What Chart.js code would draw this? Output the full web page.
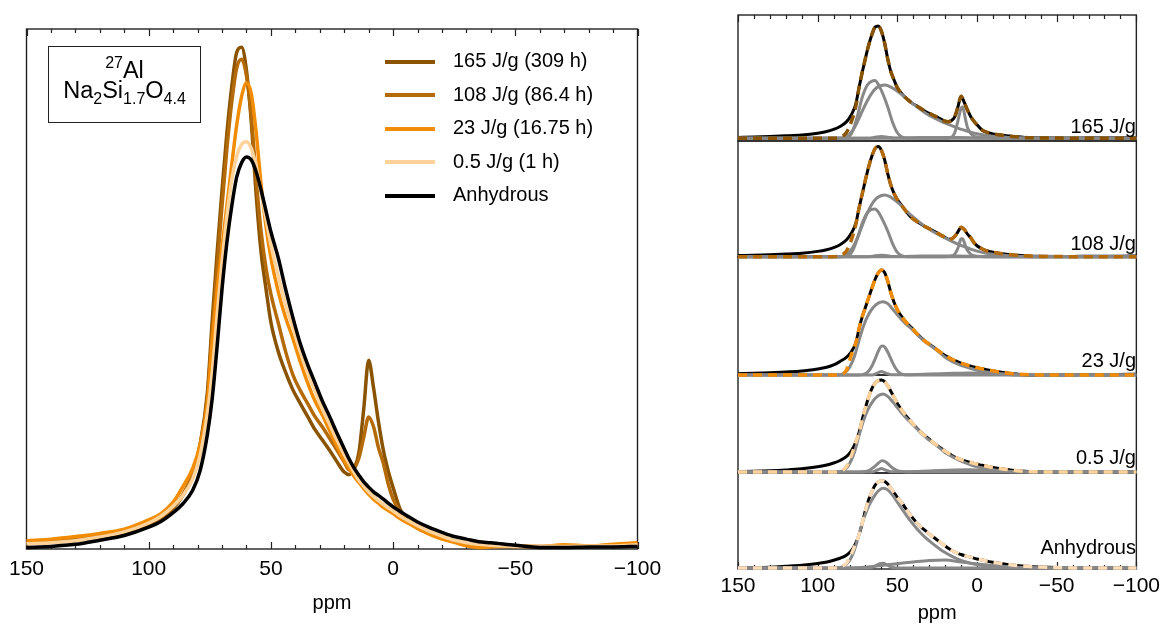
<!DOCTYPE html>
<html>
<head>
<meta charset="utf-8">
<script src="https://cdn.jsdelivr.net/npm/chart.js"></script>
<style>
  body { margin: 0; background: #fff; font-family: "Liberation Sans", Arial, sans-serif; }
  #page { position: relative; width: 1165px; height: 625px; overflow: hidden; }
  canvas { position: absolute; top: 0; }
  #nuc { position: absolute; left: 48px; top: 46px; width: 153px; height: 77px; border: 1.3px solid #222;
         box-sizing: border-box; text-align: center; font-size: 23.5px; color: #000; }
  #nuc div { position: absolute; left: 0; right: 0; height: 26px; line-height: 26px; }
  #nuc .l1 { top: 10px; }
  #nuc .l2 { top: 30px; }
  #nuc sup, #nuc sub { font-size: 16px; line-height: 0; position: relative; vertical-align: baseline; }
  #nuc sup { top: -10px; }
  #nuc sub { top: 6px; }
  #legend { position: absolute; left: 385px; top: 48px; }
  #legend .row { position: absolute; left: 0; height: 24px; line-height: 24px; white-space: nowrap; font-size: 20px; }
  #legend .sw { display: inline-block; width: 50px; height: 4px; vertical-align: middle; margin-right: 18px; }
  .tag { position: absolute; right: 29px; height: 24px; line-height: 24px; font-size: 20px; white-space: nowrap; }
</style>
</head>
<body>
<div id="page">
  <canvas id="left" width="700" height="625" style="left:0;width:700px;height:625px"></canvas>
  <canvas id="right" width="465" height="625" style="left:700px;width:465px;height:625px"></canvas>
  <div id="nuc"><div class="l1"><sup>27</sup>Al</div><div class="l2">Na<sub>2</sub>Si<sub>1.7</sub>O<sub>4.4</sub></div></div>
  <div id="legend"></div>
</div>
<script>
// ============================
// DATA
// ============================
const ppm = [150,140,130,120,110,100,95,90,86,82,79,76,74,72,70,68,66,64,62,60,
             58,56,54,52,50,47,44,41,38,35,32,29,26,23,20,18,16,14,12,10,
             8,6,4,2,0,-3,-6,-10,-15,-20,-25,-30,-35,-40,-50,-60,-70,-80,-90,-100];

const xTicks = [150, 100, 50, 0, -50, -100];

const seriesNames  = ["165 J/g (309 h)", "108 J/g (86.4 h)", "23 J/g (16.75 h)", "0.5 J/g (1 h)", "Anhydrous"];
const seriesColors = ["#8a5300", "#b56a08", "#f28c05", "#fdd29b", "#000000"];

const s165 = [1.0,1.3,1.7,2.3,3.1,4.6,5.8,7.8,10.3,14.3, 20,30,44,57,69,80,89,95.5,96.5,92,
              82,68,57,50,43.6,38,34,30.6,28,25.5, 23,21,19,16.8,14.8,14.3,15.5,18.5,27,36.3,
              31,24.5,19,15,11.8,7.5,5.5,4.0,3.0,2.1, 1.5,1.0,0.7,0.6,0.5,0.5,0.6,0.6,0.7,0.9];
const s108 = [1.2,1.5,1.9,2.5,3.3,4.8,6.0,8.0,10.5,14.5, 20,29,42,54,66,77,86,92.5,94.2,91,
              83,71,61,54,49,43.5,38,33.5,30.5,28, 25.5,23.5,21.3,19,16.7,15.2,15.5,17.5,21.5,25.4,
              23.5,19.5,16.5,12.5,9.6,7,5.3,4.0,3.0,2.1, 1.5,1.0,0.7,0.6,0.5,0.5,0.6,0.6,0.7,0.9];
const s23  = [1.6,1.9,2.4,3.0,3.8,5.6,6.8,9.0,12,15.5, 20,28,40,50,58,66,74,81.5,87,89.6,
              87.5,80,70,62,56,49.5,44.5,40.5,36,32, 28.5,25.8,22.8,19.8,17,15.5,14,12.8,11.6,10.5,
              9.6,8.8,8.0,7.4,6.8,5.8,5.0,4.0,2.8,1.9, 1.3,0.6,0.3,0.4,0.6,0.5,0.8,0.6,0.9,1.2];
const s05  = [1.0,1.2,1.6,2.3,3.3,5.0,6.3,8.2,10.3,13.5, 18,26,34,45,55,64,71,75.5,77.8,78.3,
              77,73.5,68.5,63.5,58.5,52.5,47,42.5,38,34, 30.5,27,24,21,18.2,16.5,14.8,13.2,12.1,11,
              10.1,9.3,8.6,7.9,7.3,6.3,5.5,4.5,3.4,2.5, 1.7,1.2,0.9,0.7,0.5,0.6,0.5,0.6,0.6,0.8];
const sAnh = [0.3,0.5,0.9,1.7,2.6,4.2,5.3,7.0,8.7,11.3, 15,22,29,39,50,59,66,71.5,74.3,75.4,
              74.8,72.5,69,65,61,56,50,44.5,39.5,35.5, 32,28.5,25.5,22.3,19.3,17.3,15.6,14.2,12.9,11.9,
              11,10.3,9.6,8.8,8.1,7.2,6.3,5.2,4.1,3.2, 2.4,1.9,1.4,1.2,0.7,0.3,0.3,0.4,0.4,0.5];

// fitted envelopes (right panel, dashed)
const fit165 = [0.3,0.3,0.3,0.3,0.3,0.3,0.3,0.3,1.2,5, 14,28,44,57,69,80,89,95.5,96.5,92,
                82,68,57,50,43.6,38,34,30.6,28,25.5, 23,21,19,16.8,14.8,14.3,15.5,18.5,27,36.3,
                31,24.5,19,15,11.8,7.5,5.5,4.0,3.0,2.1, 1.5,1.0,0.7,0.5,0.4,0.3,0.3,0.3,0.3,0.3];
const fit108 = [0.3,0.3,0.3,0.3,0.3,0.3,0.3,0.3,1.3,5, 14,28,42,54,66,77,86,92.5,94.2,91,
                83,71,61,54,49,43.5,38,33.5,30.5,28, 25.5,23.5,21.3,19,16.7,15.2,15.5,17.5,21.5,25.4,
                23.5,19.5,16.5,12.5,9.6,7,5.3,4.0,3.0,2.1, 1.5,1.0,0.7,0.5,0.4,0.3,0.3,0.3,0.3,0.3];
const fit23  = [0.5,0.5,0.5,0.5,0.5,0.5,0.5,0.5,1,4.5, 17,28,40,50,58,66,74,81.5,87,89.6,
                87.5,80,70,62,56,49.5,44.5,40.5,36,32, 28.5,25.8,22.8,19.8,17,15.5,14,12.8,11.6,10.5,
                9.6,8.8,8.0,7.4,6.8,5.8,5.0,4.0,2.8,1.9, 1.3,0.9,0.7,0.6,0.5,0.5,0.5,0.5,0.5,0.5];
const fit05  = [0.6,0.6,0.6,0.6,0.6,0.6,0.6,0.6,1.2,5, 14,26,34,45,55,64,71,75.5,77.8,78.3,
                77,73.5,68.5,63.5,58.5,52.5,47,42.5,38,34, 30.5,27,24,21,18.2,16.5,14.8,13.2,12.1,11,
                10.1,9.3,8.6,7.9,7.3,6.3,5.5,4.5,3.4,2.5, 1.7,1.2,0.9,0.7,0.6,0.6,0.6,0.6,0.6,0.6];
const fitAnh = [0.3,0.3,0.3,0.3,0.3,0.3,0.3,0.3,1.2,4.5, 12,22,29,39,50,59,66,71.5,74.3,75.4,
                74.8,72.5,69,65,61,56,50,44.5,39.5,35.5, 32,28.5,25.5,22.3,19.3,17.3,15.6,14.2,12.9,11.9,
                11,10.3,9.6,8.8,8.1,7.2,6.3,5.2,4.1,3.2, 2.4,1.9,1.4,1.1,0.7,0.4,0.3,0.3,0.3,0.3];

// fit components [ppm, intensity]
const c165n = [[150,0.3],[84,0.3],[80,2],[78,6.5],[75,19.5],[72,35.5],[69,45.5],[66,49.3],[64,49.7],[62,46.5],[59,38],[56,27],[53,14],[50,5],[47,1.2],[44,0.4],[40,0.3],[-100,0.3]];
const c165b = [[150,0.3],[86,0.3],[82,1.5],[78,7],[75,14.5],[72,23.5],[69,32],[66,39],[63,43.5],[60,45.5],[58,45.9],[55,44.8],[52,42.5],[48,38.5],[44,34],[40,29.5],[36,25.5],[32,21.5],[28,18.5],[24,15.8],[20,13.2],[16,11],[12,9],[8,7.2],[4,5.5],[0,4.1],[-5,3],[-10,2],[-20,1],[-30,0.5],[-40,0.3],[-100,0.3]];
const c165s = [[150,0.3],[20,0.3],[16,1.2],[14,5],[12,15],[11,21],[10,26],[9,27],[8,22],[7,15],[6,9.5],[4,4.5],[2,2.2],[0,1.3],[-5,0.6],[-10,0.3],[-100,0.3]];
const c165m = [[150,0.3],[68,0.3],[64,1.2],[60,1.8],[56,1.2],[52,0.4],[45,0.5],[35,0.8],[25,0.9],[12,0.8],[0,0.5],[-20,0.3],[-100,0.3]];

const c108n = [[150,0.3],[84,0.3],[80,1.8],[78,5.5],[75,16],[72,29],[69,37.5],[66,40.7],[64,41],[62,38.5],[59,31],[56,22],[53,11.5],[50,4],[47,1],[44,0.3],[-100,0.3]];
const c108b = [[150,0.3],[86,0.3],[82,1.8],[78,8],[75,16.5],[72,27],[69,37],[66,45],[63,50.2],[60,52.5],[58,53],[55,51.7],[52,49],[48,44.5],[44,39],[40,34],[36,29.5],[32,25.4],[28,22],[24,19],[20,16.2],[16,13.6],[12,11],[8,8.8],[4,6.7],[0,5],[-5,3.4],[-10,2.3],[-20,1.1],[-30,0.5],[-40,0.3],[-100,0.3]];
const c108s = [[150,0.3],[20,0.3],[16,0.8],[14,2.5],[12,7.5],[11,12],[10,15.5],[9,15.5],[8,12.5],[7,8.5],[6,5.5],[4,2.5],[2,1.2],[0,0.7],[-5,0.3],[-100,0.3]];
const c108m = [[150,0.3],[68,0.3],[64,1.0],[60,1.6],[56,1.0],[52,0.4],[45,0.5],[35,0.8],[25,0.9],[12,0.8],[0,0.5],[-20,0.3],[-100,0.3]];

const c23b = [[150,0.5],[88,0.5],[84,1.5],[80,7],[77,16],[74,30],[71,43],[68,52],[65,58],[62,61.5],[59,62.7],[56,61],[53,56.5],[50,51.5],[47,47],[44,43],[41,39.5],[38,35.5],[35,31.5],[32,28],[29,25.3],[26,22.3],[23,19],[20,15.5],[16,12.3],[12,9.8],[8,7.8],[4,6],[0,4.6],[-5,3.3],[-10,2.3],[-15,1.5],[-20,1],[-30,0.6],[-40,0.5],[-100,0.5]];
const c23n = [[150,0.5],[74,0.5],[72,0.8],[69,2.5],[66,8],[64,14],[62,20.5],[60,25],[59,25.1],[57,22.5],[55,17],[53,11],[51,6],[49,2.8],[47,1.2],[44,0.5],[-100,0.5]];
const c23m = [[150,0.5],[66,0.5],[62,2.5],[60,3.5],[58,2.5],[54,0.8],[45,0.8],[30,1.3],[15,2],[5,2.3],[-5,2],[-15,1.2],[-30,0.6],[-40,0.5],[-100,0.5]];

const c05b = [[150,0.6],[88,0.6],[84,1.5],[80,7.5],[77,17],[74,31.5],[71,45],[68,54.5],[65,61],[62,65],[59,66.5],[56,64.5],[53,60],[50,55],[47,50],[44,45.5],[41,41.5],[38,37.5],[35,33.3],[32,29.7],[29,26.5],[26,23.5],[23,20.3],[20,17],[16,13.8],[12,11],[8,8.7],[4,6.7],[0,5],[-5,3.6],[-10,2.6],[-15,1.8],[-20,1.2],[-30,0.7],[-40,0.6],[-100,0.6]];
const c05n = [[150,0.6],[74,0.6],[70,1],[67,2.5],[64,5.5],[62,8],[60,10],[59,10.1],[57,8.8],[55,6.5],[53,4],[50,1.8],[47,0.9],[44,0.6],[-100,0.6]];
const c05m = [[150,0.6],[66,0.6],[62,2.5],[60,3.5],[58,2.5],[54,0.9],[45,0.9],[30,1.5],[15,2.2],[5,2.4],[-5,2.1],[-15,1.3],[-30,0.7],[-40,0.6],[-100,0.6]];

const cAnhB = [[150,0.3],[88,0.3],[84,1.5],[80,6.5],[77,15.5],[74,29.5],[71,43],[68,53.5],[65,61],[62,66.5],[59,68.9],[56,67.5],[53,63],[50,57],[47,51],[44,45],[41,39.5],[38,34.5],[35,30],[32,26],[29,22.5],[26,19.3],[23,16.3],[20,13.6],[16,10.5],[12,8],[8,6],[4,4.4],[0,3.3],[-5,2.2],[-10,1.5],[-20,0.8],[-30,0.5],[-40,0.3],[-100,0.3]];
const cAnhH = [[150,0.3],[80,0.3],[70,1],[60,2.5],[50,4],[40,5.5],[30,6.8],[20,7.2],[10,5.5],[0,3.8],[-10,2.4],[-20,1.3],[-30,0.7],[-45,0.4],[-100,0.3]];
const cAnhM = [[150,0.3],[68,0.3],[64,2],[61,4],[59,4.3],[56,2.5],[52,0.6],[48,0.3],[-100,0.3]];

// right panel stack (top to bottom)
const panelTags    = ["165 J/g", "108 J/g", "23 J/g", "0.5 J/g", "Anhydrous"];
const panelData    = [s165, s108, s23, s05, sAnh];
const panelFits    = [fit165, fit108, fit23, fit05, fitAnh];
const panelComps   = [[c165n, c165b, c165s, c165m], [c108n, c108b, c108s, c108m],
                      [c23b, c23n, c23m], [c05b, c05n, c05m], [cAnhB, cAnhH, cAnhM]];
const panelMin     = [-2.1, 0, 0.5, -0.25, -0.56];
const panelMax     = [105.9, 99, 100.6, 82.5, 82];
const panelWeight  = [126, 116, 118, 98, 96];
const fitColors    = ["#8a5300", "#b56a08", "#f28c05", "#fdd29b", "#fddcb8"];

// ============================
// HELPERS
// ============================
const FONT = "'Liberation Sans', Arial, sans-serif";
const toXY  = arr => ppm.map((x, i) => ({ x: x, y: arr[i] }));
const toPts = pairs => pairs.map(p => ({ x: p[0], y: p[1] }));
const tickLabel = v => (v < 0 ? "\u2212" + Math.abs(v) : String(v));

function drawTicks(ctx, xs, top, bottom){
  ctx.beginPath();
  for(let v = -100; v <= 150; v += 10){
    const px = Math.round(xs.getPixelForValue(v)) + 0.5;
    const len = v % 50 === 0 ? 7 : 4;
    if(top !== null){ ctx.moveTo(px, top); ctx.lineTo(px, top + len); }
    if(bottom !== null){ ctx.moveTo(px, bottom); ctx.lineTo(px, bottom - len); }
  }
  ctx.stroke();
}

function xAxis(pad, height){
  return {
    type: "linear", min: -100, max: 150, reverse: true, position: "bottom",
    grid: { display: false, drawTicks: false },
    border: { display: false },
    afterBuildTicks: s => { s.ticks = xTicks.map(v => ({ value: v })); },
    afterFit: s => { s.height = height; },
    ticks: { color: "#000", font: { family: FONT, size: 21 }, padding: pad, maxRotation: 0,
             autoSkip: false, callback: v => tickLabel(v) },
    title: { display: true, text: "ppm", color: "#000", font: { family: FONT, size: 20 },
             padding: { top: 0, bottom: 0 } }
  };
}

// ============================
// LEFT PANEL
// ============================
const leftFrame = {
  id: "leftFrame",
  beforeDatasetsDraw(chart){
    const { ctx, chartArea: a, scales } = chart;
    ctx.save();
    ctx.strokeStyle = "#222";
    ctx.lineWidth = 1.4;
    ctx.strokeRect(a.left, a.top, a.right - a.left, a.bottom - a.top);
    ctx.lineWidth = 1.2;
    drawTicks(ctx, scales.x, a.top, a.bottom);
    ctx.restore();
  }
};

const leftSeries = [s165, s108, s23, s05, sAnh];
new Chart(document.getElementById("left"), {
  type: "line",
  data: {
    datasets: leftSeries.map((arr, i) => ({
      label: seriesNames[i],
      data: toXY(arr),
      borderColor: seriesColors[i],
      borderWidth: 3.5,
      pointRadius: 0,
      cubicInterpolationMode: "monotone",
      clip: 4,
      order: leftSeries.length - i
    }))
  },
  options: {
    responsive: false,
    animation: false,
    layout: { padding: { left: 26.5, top: 29, right: 62.5, bottom: 10 } },
    plugins: { legend: { display: false }, tooltip: { enabled: false } },
    scales: {
      x: xAxis(8, 66),
      y: { display: false, min: 0, max: 100 }
    }
  },
  plugins: [leftFrame]
});

// legend (html)
const leg = document.getElementById("legend");
seriesNames.forEach((n, i) => {
  const row = document.createElement("div");
  row.className = "row";
  row.style.top = (i * 33.5) + "px";
  row.innerHTML = `<span class="sw" style="background:${seriesColors[i]}"></span><span>${n}</span>`;
  leg.appendChild(row);
});

// ============================
// RIGHT PANEL (stacked fits)
// ============================
const rightFrame = {
  id: "rightFrame",
  beforeDatasetsDraw(chart){
    const { ctx, chartArea: a, scales } = chart;
    ctx.save();
    ctx.strokeStyle = "#222";
    ctx.lineWidth = 1.4;
    panelTags.forEach((t, k) => {
      const s = scales["p" + k];
      ctx.strokeRect(a.left, s.top, a.right - a.left, s.bottom - s.top);
    });
    ctx.lineWidth = 1.2;
    drawTicks(ctx, scales.x, a.top, a.bottom);
    ctx.restore();
  }
};

const rightSets = [];
const rightScales = { x: xAxis(5, 56) };
panelTags.forEach((t, k) => {
  const yid = "p" + k;
  rightScales[yid] = { display: false, position: "right", stack: "panels",
                       stackWeight: panelWeight[k], min: panelMin[k], max: panelMax[k] };
  rightSets.push({ data: toXY(panelData[k]), yAxisID: yid, borderColor: "#000",
                   borderWidth: 3, pointRadius: 0, cubicInterpolationMode: "monotone", clip: 4, order: 3 });
  panelComps[k].forEach(c => {
    rightSets.push({ data: toPts(c), yAxisID: yid, borderColor: "#888888",
                     borderWidth: 3, pointRadius: 0, cubicInterpolationMode: "monotone", clip: 4, order: 2 });
  });
  rightSets.push({ data: toXY(panelFits[k]), yAxisID: yid, borderColor: fitColors[k],
                   borderWidth: 3.5, borderDash: [9, 6], pointRadius: 0,
                   cubicInterpolationMode: "monotone", clip: 4, order: 1 });
});

new Chart(document.getElementById("right"), {
  type: "line",
  data: { datasets: rightSets },
  options: {
    responsive: false,
    animation: false,
    layout: { padding: { left: 38, top: 15, right: 27, bottom: 0 } },
    plugins: { legend: { display: false }, tooltip: { enabled: false } },
    scales: rightScales
  },
  plugins: [rightFrame]
});

// panel tags (html)
const tagCenters = [126, 243, 360, 457, 547];
panelTags.forEach((t, k) => {
  const d = document.createElement("div");
  d.className = "tag";
  d.style.top = (tagCenters[k] - 12) + "px";
  d.textContent = t;
  document.getElementById("page").appendChild(d);
});
</script>
</body>
</html>
